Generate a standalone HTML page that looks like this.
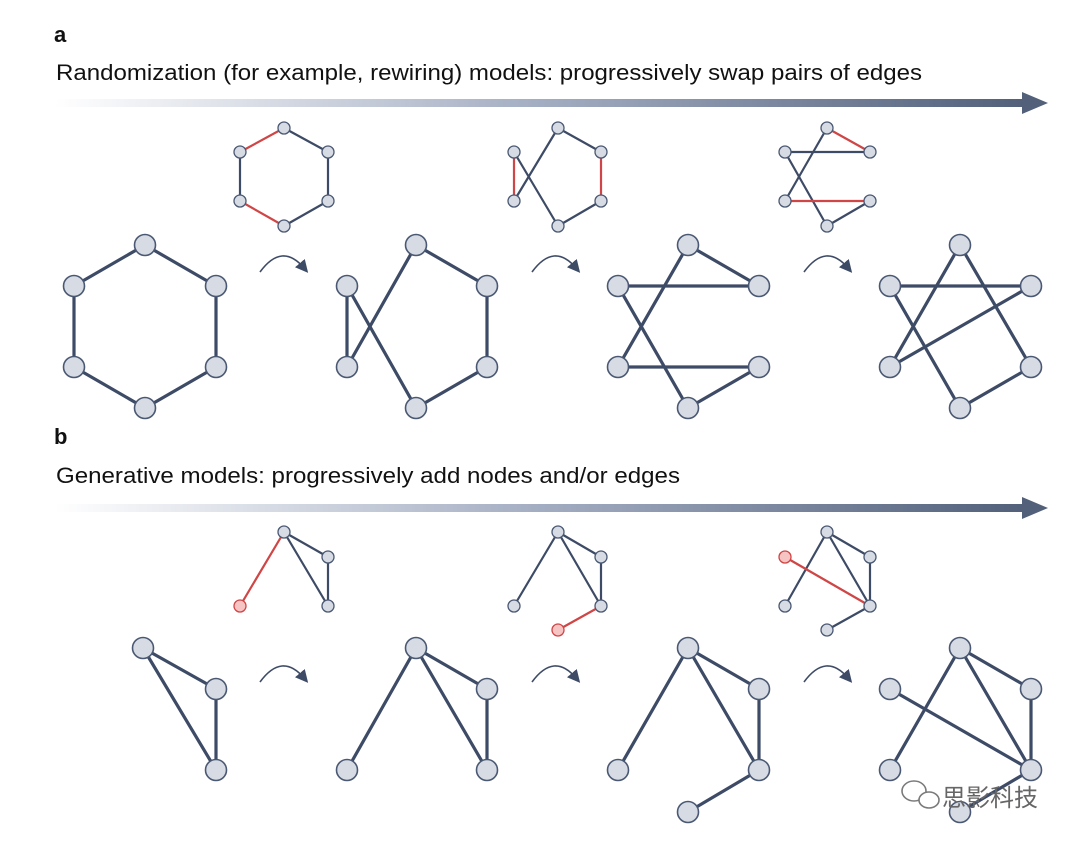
<!DOCTYPE html>
<html><head><meta charset="utf-8"><style>
body{margin:0;background:#fff;width:1080px;height:842px;overflow:hidden}
svg{display:block}
</style></head><body>
<svg width="1080" height="842" viewBox="0 0 1080 842" xmlns="http://www.w3.org/2000/svg">
<defs>
<linearGradient id="g" x1="0" x2="1"><stop offset="0" stop-color="#fff"/><stop offset="0.5" stop-color="#a3adc2"/><stop offset="1" stop-color="#52607a"/></linearGradient>
<marker id="ah" markerWidth="8" markerHeight="8" refX="4" refY="4" orient="auto"><path d="M0,0 L8,4 L0,8 Z" fill="#3d4b66"/></marker>
</defs>
<g font-family="Liberation Sans, sans-serif" fill="#111">
<text x="54" y="42" font-size="22" font-weight="bold">a</text>
<text x="56" y="80" font-size="22" textLength="866" lengthAdjust="spacingAndGlyphs">Randomization (for example, rewiring) models: progressively swap pairs of edges</text>
<text x="54" y="444" font-size="22" font-weight="bold">b</text>
<text x="56" y="483" font-size="22" textLength="624" lengthAdjust="spacingAndGlyphs">Generative models: progressively add nodes and/or edges</text>
</g>
<rect x="55" y="99" width="970" height="8" fill="url(#g)"/>
<path d="M1022,92 L1048,103 L1022,114 Z" fill="#52607a"/>
<rect x="55" y="504" width="970" height="8" fill="url(#g)"/>
<path d="M1022,497 L1048,508 L1022,519 Z" fill="#52607a"/>

<g fill="none" stroke="#3d4b66" stroke-width="1.6" marker-end="url(#ah)">
<path d="M260,272 Q282,242 304,268"/>
<path d="M532,272 Q554,242 576,268"/>
<path d="M804,272 Q826,242 848,268"/>
<path d="M260,682 Q282,652 304,678"/>
<path d="M532,682 Q554,652 576,678"/>
<path d="M804,682 Q826,652 848,678"/>
</g>

<g stroke-width="2.2" stroke-linecap="round">
<g stroke="#3d4b66"><line x1="284" y1="128" x2="328" y2="152"/><line x1="328" y1="152" x2="328" y2="201"/><line x1="328" y1="201" x2="284" y2="226"/><line x1="240" y1="152" x2="240" y2="201"/></g>
<g stroke="#d04545"><line x1="284" y1="128" x2="240" y2="152"/><line x1="240" y1="201" x2="284" y2="226"/></g>
<g stroke="#3d4b66"><line x1="558" y1="128" x2="601" y2="152"/><line x1="601" y1="201" x2="558" y2="226"/><line x1="514" y1="152" x2="558" y2="226"/><line x1="514" y1="201" x2="558" y2="128"/></g>
<g stroke="#d04545"><line x1="601" y1="152" x2="601" y2="201"/><line x1="514" y1="152" x2="514" y2="201"/></g>
<g stroke="#3d4b66"><line x1="785" y1="152" x2="870" y2="152"/><line x1="785" y1="152" x2="827" y2="226"/><line x1="785" y1="201" x2="827" y2="128"/><line x1="870" y1="201" x2="827" y2="226"/></g>
<g stroke="#d04545"><line x1="827" y1="128" x2="870" y2="152"/><line x1="785" y1="201" x2="870" y2="201"/></g>
<g stroke="#3d4b66"><line x1="284" y1="532" x2="328" y2="557"/><line x1="328" y1="557" x2="328" y2="606"/><line x1="284" y1="532" x2="328" y2="606"/></g>
<line stroke="#d04545" x1="284" y1="532" x2="240" y2="606"/>
<g stroke="#3d4b66"><line x1="558" y1="532" x2="601" y2="557"/><line x1="601" y1="557" x2="601" y2="606"/><line x1="558" y1="532" x2="601" y2="606"/><line x1="558" y1="532" x2="514" y2="606"/></g>
<line stroke="#d04545" x1="601" y1="606" x2="558" y2="630"/>
<g stroke="#3d4b66"><line x1="827" y1="532" x2="870" y2="557"/><line x1="870" y1="557" x2="870" y2="606"/><line x1="827" y1="532" x2="870" y2="606"/><line x1="827" y1="532" x2="785" y2="606"/><line x1="870" y1="606" x2="827" y2="630"/></g>
<line stroke="#d04545" x1="785" y1="557" x2="870" y2="606"/>
</g>
<g fill="#d6dbe4" stroke="#4a5873" stroke-width="1.3">
<circle cx="284" cy="128" r="6"/><circle cx="240" cy="152" r="6"/><circle cx="240" cy="201" r="6"/><circle cx="284" cy="226" r="6"/><circle cx="328" cy="152" r="6"/><circle cx="328" cy="201" r="6"/>
<circle cx="558" cy="128" r="6"/><circle cx="514" cy="152" r="6"/><circle cx="514" cy="201" r="6"/><circle cx="558" cy="226" r="6"/><circle cx="601" cy="152" r="6"/><circle cx="601" cy="201" r="6"/>
<circle cx="827" cy="128" r="6"/><circle cx="785" cy="152" r="6"/><circle cx="785" cy="201" r="6"/><circle cx="827" cy="226" r="6"/><circle cx="870" cy="152" r="6"/><circle cx="870" cy="201" r="6"/>
<circle cx="284" cy="532" r="6"/><circle cx="328" cy="557" r="6"/><circle cx="328" cy="606" r="6"/>
<circle cx="558" cy="532" r="6"/><circle cx="601" cy="557" r="6"/><circle cx="601" cy="606" r="6"/><circle cx="514" cy="606" r="6"/>
<circle cx="827" cy="532" r="6"/><circle cx="870" cy="557" r="6"/><circle cx="870" cy="606" r="6"/><circle cx="785" cy="606" r="6"/><circle cx="827" cy="630" r="6"/>
</g>
<g fill="#f7c4c4" stroke="#d04545" stroke-width="1.3">
<circle cx="240" cy="606" r="6"/><circle cx="558" cy="630" r="6"/><circle cx="785" cy="557" r="6"/>
</g>

<g stroke="#3d4b66" stroke-width="3.2" stroke-linecap="round">
<polyline fill="none" points="145,245 216,286 216,367 145,408 74,367 74,286 145,245"/>
<line x1="416" y1="245" x2="487" y2="286"/><line x1="487" y1="286" x2="487" y2="367"/><line x1="487" y1="367" x2="416" y2="408"/><line x1="347" y1="286" x2="347" y2="367"/><line x1="347" y1="286" x2="416" y2="408"/><line x1="347" y1="367" x2="416" y2="245"/>
<line x1="688" y1="245" x2="759" y2="286"/><line x1="618" y1="286" x2="759" y2="286"/><line x1="618" y1="286" x2="688" y2="408"/><line x1="618" y1="367" x2="688" y2="245"/><line x1="618" y1="367" x2="759" y2="367"/><line x1="759" y1="367" x2="688" y2="408"/>
<line x1="960" y1="245" x2="1031" y2="367"/><line x1="890" y1="367" x2="1031" y2="286"/><line x1="890" y1="286" x2="1031" y2="286"/><line x1="890" y1="286" x2="960" y2="408"/><line x1="960" y1="245" x2="890" y2="367"/><line x1="1031" y1="367" x2="960" y2="408"/>
<line x1="143" y1="648" x2="216" y2="689"/><line x1="216" y1="689" x2="216" y2="770"/><line x1="143" y1="648" x2="216" y2="770"/>
<line x1="416" y1="648" x2="487" y2="689"/><line x1="487" y1="689" x2="487" y2="770"/><line x1="416" y1="648" x2="487" y2="770"/><line x1="416" y1="648" x2="347" y2="770"/>
<line x1="688" y1="648" x2="759" y2="689"/><line x1="759" y1="689" x2="759" y2="770"/><line x1="688" y1="648" x2="759" y2="770"/><line x1="688" y1="648" x2="618" y2="770"/><line x1="759" y1="770" x2="688" y2="812"/>
<line x1="960" y1="648" x2="1031" y2="689"/><line x1="1031" y1="689" x2="1031" y2="770"/><line x1="960" y1="648" x2="1031" y2="770"/><line x1="960" y1="648" x2="890" y2="770"/><line x1="1031" y1="770" x2="960" y2="812"/><line x1="890" y1="689" x2="1031" y2="770"/>
</g>
<g fill="#d6dbe4" stroke="#4a5873" stroke-width="1.6">
<circle cx="145" cy="245" r="10.5"/><circle cx="74" cy="286" r="10.5"/><circle cx="216" cy="286" r="10.5"/><circle cx="74" cy="367" r="10.5"/><circle cx="216" cy="367" r="10.5"/><circle cx="145" cy="408" r="10.5"/>
<circle cx="416" cy="245" r="10.5"/><circle cx="347" cy="286" r="10.5"/><circle cx="487" cy="286" r="10.5"/><circle cx="347" cy="367" r="10.5"/><circle cx="487" cy="367" r="10.5"/><circle cx="416" cy="408" r="10.5"/>
<circle cx="688" cy="245" r="10.5"/><circle cx="618" cy="286" r="10.5"/><circle cx="759" cy="286" r="10.5"/><circle cx="618" cy="367" r="10.5"/><circle cx="759" cy="367" r="10.5"/><circle cx="688" cy="408" r="10.5"/>
<circle cx="960" cy="245" r="10.5"/><circle cx="890" cy="286" r="10.5"/><circle cx="1031" cy="286" r="10.5"/><circle cx="890" cy="367" r="10.5"/><circle cx="1031" cy="367" r="10.5"/><circle cx="960" cy="408" r="10.5"/>
<circle cx="143" cy="648" r="10.5"/><circle cx="216" cy="689" r="10.5"/><circle cx="216" cy="770" r="10.5"/>
<circle cx="416" cy="648" r="10.5"/><circle cx="487" cy="689" r="10.5"/><circle cx="487" cy="770" r="10.5"/><circle cx="347" cy="770" r="10.5"/>
<circle cx="688" cy="648" r="10.5"/><circle cx="759" cy="689" r="10.5"/><circle cx="759" cy="770" r="10.5"/><circle cx="618" cy="770" r="10.5"/><circle cx="688" cy="812" r="10.5"/>
<circle cx="960" cy="648" r="10.5"/><circle cx="1031" cy="689" r="10.5"/><circle cx="1031" cy="770" r="10.5"/><circle cx="890" cy="770" r="10.5"/><circle cx="960" cy="812" r="10.5"/><circle cx="890" cy="689" r="10.5"/>
</g>
<g fill="#fff" stroke="#7a7a7a" stroke-width="1.6">
<ellipse cx="914" cy="791" rx="12" ry="10"/><ellipse cx="929" cy="800" rx="10" ry="8"/>
</g>
<text x="942" y="806" font-family="Liberation Sans, 'Noto Sans CJK SC', sans-serif" font-size="24" fill="#666">思影科技</text>
</svg>
</body></html>
